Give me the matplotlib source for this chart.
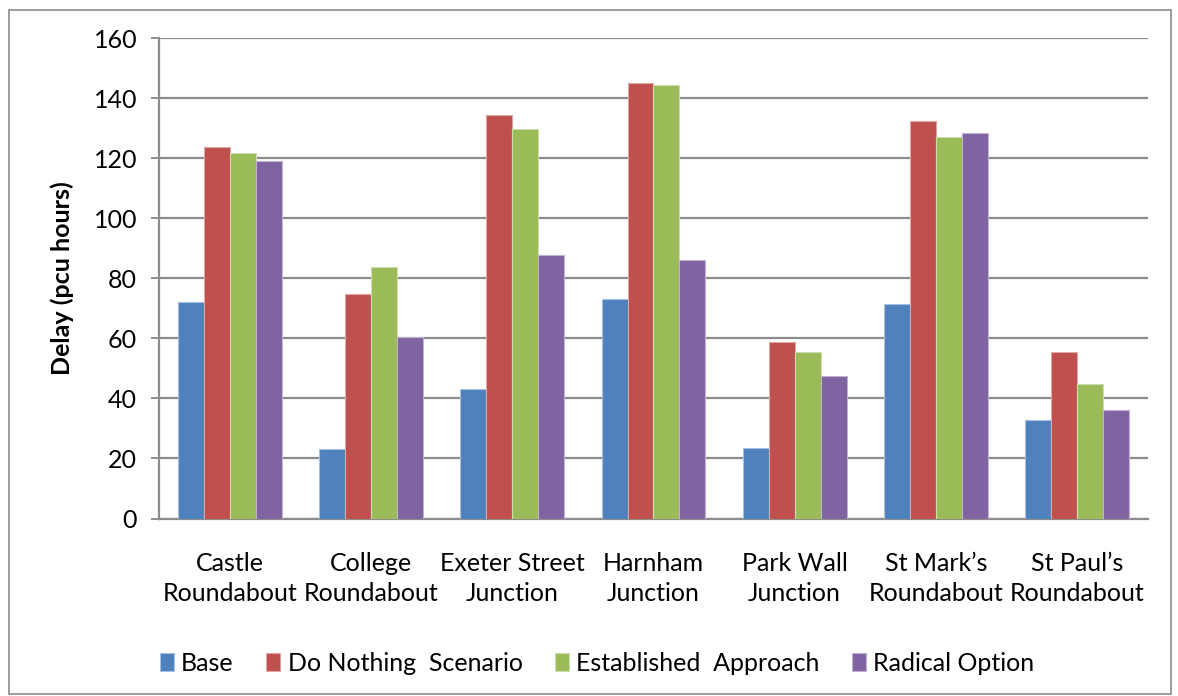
import numpy as np
import matplotlib.pyplot as plt
from matplotlib import font_manager
from matplotlib.patches import Rectangle

# junction names (two-line labels) and the four scenarios
junctions = ["Castle\nRoundabout", "College\nRoundabout", "Exeter Street\nJunction",
             "Harnham\nJunction", "Park Wall\nJunction", "St Mark\u2019s\nRoundabout",
             "St Paul\u2019s\nRoundabout"]
scenarios = ["Base", "Do Nothing  Scenario", "Established  Approach", "Radical Option"]

base = [72, 23, 43, 73.3, 23.4, 71.4, 32.7]
do_nothing = [123.7, 74.7, 134.4, 145.1, 58.7, 132.5, 55.4]
established = [121.7, 83.9, 129.8, 144.4, 55.4, 127.2, 44.7]
radical = [119.2, 60.6, 87.9, 86.1, 47.4, 128.4, 36.1]

colors = ["#4F81BD", "#C0504D", "#9BBB59", "#8064A2"]
edges = ["#A7C0DE", "#DFA7A6", "#CDDDAC", "#BFB1D0"]

available = {f.name for f in font_manager.fontManager.ttflist}
family = [f for f in ["Lato", "Liberation Sans", "DejaVu Sans"] if f in available]
plt.rcParams['font.family'] = family

fig = plt.figure(figsize=(11.78, 6.96), dpi=100)
ax = fig.add_axes([0.1353, 0.2550, 0.8389, 0.690])

x = np.arange(len(junctions))
w = 0.184
for j, (vals, name) in enumerate(zip([base, do_nothing, established, radical], scenarios)):
    ax.bar(x + (j - 1.5) * w, vals, width=w, color=colors[j], edgecolor=edges[j],
           linewidth=0.8, label=name, zorder=3)

ax.set_xlim(-0.5, 6.5)
ax.set_ylim(0, 160)
ax.set_yticks(np.arange(0, 161, 20))
ax.grid(axis='y', color='#8C8C8C', linewidth=1.6, zorder=0)
ax.set_axisbelow(True)

for side in ['top', 'right']:
    ax.spines[side].set_visible(False)
for side in ['left', 'bottom']:
    ax.spines[side].set_color('#8C8C8C')
    ax.spines[side].set_linewidth(1.6)

ax.tick_params(axis='y', direction='out', length=6, width=1.4, color='#8C8C8C',
               labelsize=18, pad=10)
ax.tick_params(axis='x', length=0, labelsize=18, pad=24)
ax.set_xticks(x)
ax.set_xticklabels(junctions, linespacing=1.4)
ax.set_ylabel("Delay (pcu hours)", fontsize=18, fontweight='bold', labelpad=14)

fig.legend(loc='center', bbox_to_anchor=(0.507, 0.047), ncol=4, frameon=False,
           fontsize=18, handlelength=0.55, handleheight=0.7, handletextpad=0.3,
           columnspacing=1.3)

# outer chart border
fig.patches.append(Rectangle((9 / 1178, 2 / 696), 1162 / 1178, 684 / 696,
                             transform=fig.transFigure, fill=False,
                             edgecolor='#8C8C8C', linewidth=1.2))

fig.savefig("out.png", dpi=100)
